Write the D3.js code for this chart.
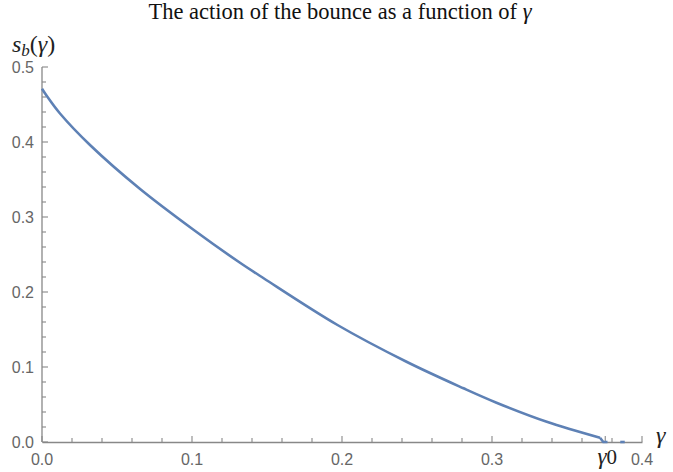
<!DOCTYPE html>
<html>
<head>
<meta charset="utf-8">
<script src="https://cdn.jsdelivr.net/npm/d3@7"></script>
<style>
  body { margin: 0; background: #fff; }
</style>
</head>
<body>
<div id="chart"></div>
<script>
// Data
var gammaVals = [0, 0.003, 0.012, 0.032, 0.065, 0.101, 0.132, 0.148, 0.197, 0.243, 0.281, 0.303, 0.3365, 0.372];
var actionVals = [0.471, 0.462, 0.438, 0.396, 0.338, 0.283, 0.239, 0.218, 0.156, 0.107, 0.0716, 0.0524, 0.027, 0.0057];
var endGamma = [0.372, 0.3742, 0.377];
var endAction = [0.0057, 0, 0];
var tailGamma = [0.3855, 0.3885];
var tailAction = [0, 0];

var xTicks = [0, 0.1, 0.2, 0.3, 0.4];
var xTickLabels = ["0.0", "0.1", "0.2", "0.3", "0.4"];
var yTicks = [0, 0.1, 0.2, 0.3, 0.4, 0.5];
var yTickLabels = ["0.0", "0.1", "0.2", "0.3", "0.4", "0.5"];
var gamma0 = 0.3755;

let width = 673;
let height = 472;
let paddingLeft = 42;
let paddingRight = 31;
let paddingTop = 67;
let paddingBottom = 30;

let plotWidth = width - paddingLeft - paddingRight;
let plotHeight = height - paddingTop - paddingBottom;

let sansFont = "'Liberation Sans', Arial, sans-serif";
let serifFont = "'Liberation Serif', 'Times New Roman', serif";

var svg = d3.select("#chart")
  .append("svg")
  .attr("width", width)
  .attr("height", height);

let xScale = d3.scaleLinear().domain([0, 0.4]).range([0, plotWidth]);
let yScale = d3.scaleLinear().domain([0, 0.5]).range([plotHeight, 0]);

let plot = svg.append("g")
  .attr("transform", "translate(" + paddingLeft + "," + paddingTop + ")");

let axisColor = "#888";
let labelColor = "#666";

// minor ticks
let xMinor = d3.range(0, 0.4001, 0.02);
let yMinor = d3.range(0, 0.5001, 0.02);
let isMajor = d => Math.abs(d * 10 - Math.round(d * 10)) < 1e-6;

let xAxis = d3.axisBottom(xScale)
  .tickValues(xMinor)
  .tickSize(0)
  .tickFormat("");
plot.append("g")
  .attr("transform", "translate(0," + plotHeight + ")")
  .call(xAxis)
  .call(g => g.select(".domain").attr("stroke", axisColor).attr("stroke-width", 1.3));

// x ticks (drawn inward)
plot.append("g").selectAll("line")
  .data(xMinor)
  .join("line")
  .attr("x1", d => xScale(d))
  .attr("x2", d => xScale(d))
  .attr("y1", plotHeight)
  .attr("y2", d => plotHeight - (isMajor(d) ? 6 : 4))
  .attr("stroke", axisColor)
  .attr("stroke-width", 1.1);

plot.append("line")
  .attr("x1", xScale(gamma0)).attr("x2", xScale(gamma0))
  .attr("y1", plotHeight).attr("y2", plotHeight - 6)
  .attr("stroke", axisColor).attr("stroke-width", 1.1);

// y axis
plot.append("line")
  .attr("x1", 0).attr("x2", 0)
  .attr("y1", plotHeight).attr("y2", 0)
  .attr("stroke", axisColor).attr("stroke-width", 1.3);

plot.append("g").selectAll("line")
  .data(yMinor)
  .join("line")
  .attr("x1", 0)
  .attr("x2", d => (isMajor(d) ? 6 : 4))
  .attr("y1", d => yScale(d))
  .attr("y2", d => yScale(d))
  .attr("stroke", axisColor)
  .attr("stroke-width", 1.1);

// tick labels
plot.append("g").selectAll("text")
  .data(xTicks)
  .join("text")
  .attr("x", d => xScale(d))
  .attr("y", plotHeight + 23)
  .attr("text-anchor", "middle")
  .style("font-family", sansFont)
  .style("font-size", "16px")
  .style("fill", labelColor)
  .text((d, i) => xTickLabels[i]);

plot.append("g").selectAll("text")
  .data(yTicks)
  .join("text")
  .attr("x", -8)
  .attr("y", d => yScale(d) + 6)
  .attr("text-anchor", "end")
  .style("font-family", sansFont)
  .style("font-size", "16px")
  .style("fill", labelColor)
  .text((d, i) => yTickLabels[i]);

// gamma0 label
let g0 = plot.append("text")
  .attr("x", xScale(gamma0) + 2)
  .attr("y", plotHeight + 22)
  .attr("text-anchor", "middle")
  .style("font-family", serifFont)
  .style("font-size", "23px")
  .style("fill", "#222");
g0.append("tspan").style("font-style", "italic").text("γ");
g0.append("tspan").style("font-size", "21px").text("0");

// curve
let smooth = d3.line()
  .x(d => xScale(d[0]))
  .y(d => yScale(d[1]))
  .curve(d3.curveCatmullRom);
let straight = d3.line()
  .x(d => xScale(d[0]))
  .y(d => yScale(d[1]));

plot.append("path")
  .datum(gammaVals.map((g, i) => [g, actionVals[i]]))
  .attr("d", smooth)
  .attr("fill", "none")
  .attr("stroke", "#5e81b5")
  .attr("stroke-width", 2.6);

plot.append("path")
  .datum(endGamma.map((g, i) => [g, endAction[i]]))
  .attr("d", straight)
  .attr("fill", "none")
  .attr("stroke", "#5e81b5")
  .attr("stroke-width", 2.6);

plot.append("path")
  .datum(tailGamma.map((g, i) => [g, tailAction[i]]))
  .attr("d", straight)
  .attr("fill", "none")
  .attr("stroke", "#5e81b5")
  .attr("stroke-width", 2.6);

// axis labels
svg.append("text")
  .attr("x", paddingLeft + plotWidth + 14)
  .attr("y", paddingTop + plotHeight + 1)
  .style("font-family", serifFont)
  .style("font-style", "italic")
  .style("font-size", "24px")
  .style("fill", "#222")
  .text("γ");

let yl = svg.append("text")
  .attr("x", 12)
  .attr("y", 52)
  .style("font-family", serifFont)
  .style("font-size", "24px")
  .style("fill", "#222");
yl.append("tspan").style("font-style", "italic").text("s");
yl.append("tspan").style("font-style", "italic").style("font-size", "17px").attr("dy", 4).text("b");
yl.append("tspan").attr("dy", -4).text("(");
yl.append("tspan").style("font-style", "italic").text("γ");
yl.append("tspan").text(")");

// title
svg.append("text")
  .attr("x", 340)
  .attr("y", 19)
  .attr("text-anchor", "middle")
  .style("font-family", serifFont)
  .style("font-size", "22.5px")
  .style("fill", "#111")
  .text("The action of the bounce as a function of ")
  .append("tspan")
  .style("font-style", "italic")
  .text("γ");
</script>
</body>
</html>
